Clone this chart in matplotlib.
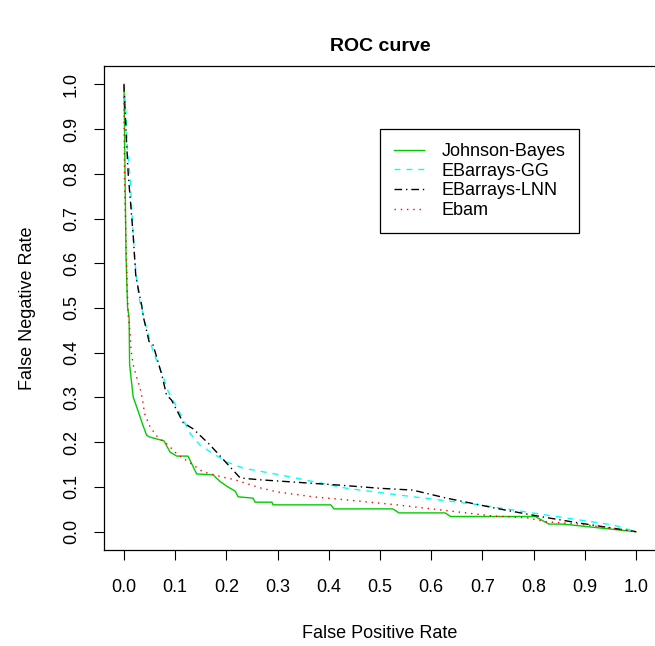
import numpy as np
import matplotlib
matplotlib.use("Agg")
import matplotlib.pyplot as plt

plt.rcParams["font.family"] = ["Liberation Sans", "DejaVu Sans"]

# ------------------------------------------- DATA ------------------------------------------- #

labels = ["Johnson-Bayes", "EBarrays-GG", "EBarrays-LNN", "Ebam"]

jb_fpr = [0.0, 0.004, 0.007, 0.010, 0.011, 0.018, 0.029, 0.037, 0.044, 0.049, 0.078, 0.090,
          0.103, 0.125, 0.142, 0.174, 0.188, 0.203, 0.217, 0.223, 0.252, 0.256, 0.289, 0.291,
          0.404, 0.410, 0.525, 0.537, 0.627, 0.638, 0.803, 0.830, 0.857, 1.0]
jb_fnr = [1.0, 0.614, 0.502, 0.478, 0.373, 0.301, 0.265, 0.238, 0.216, 0.212, 0.203, 0.178,
          0.169, 0.169, 0.129, 0.127, 0.112, 0.100, 0.091, 0.078, 0.075, 0.066, 0.066, 0.060,
          0.060, 0.051, 0.051, 0.042, 0.042, 0.034, 0.034, 0.017, 0.017, 0.0]

gg_fpr = [0.0, 0.004, 0.007, 0.012, 0.015, 0.020, 0.025, 0.031, 0.044, 0.057, 0.074, 0.0865,
          0.103, 0.129, 0.148, 0.168, 0.2006, 0.233, 0.305, 0.435, 0.565, 0.695, 0.826, 0.956, 1.0]
gg_fnr = [1.0, 0.933, 0.849, 0.791, 0.723, 0.626, 0.559, 0.514, 0.455, 0.402, 0.355, 0.313,
          0.279, 0.220, 0.194, 0.179, 0.156, 0.142, 0.127, 0.097, 0.078, 0.060, 0.037, 0.015, 0.0]

lnn_fpr = [0.0, 0.002, 0.005, 0.0084, 0.0137, 0.018, 0.023, 0.029, 0.0346, 0.0377, 0.049, 0.057,
           0.074, 0.083, 0.093, 0.116, 0.135, 0.168, 0.207, 0.227, 0.266, 0.422, 0.500, 0.564,
           0.630, 0.728, 0.8125, 0.891, 1.0]
lnn_fnr = [1.0, 0.947, 0.872, 0.797, 0.723, 0.662, 0.573, 0.536, 0.506, 0.481, 0.425, 0.417,
           0.350, 0.306, 0.294, 0.243, 0.230, 0.194, 0.145, 0.120, 0.116, 0.104, 0.097, 0.093,
           0.075, 0.052, 0.034, 0.019, 0.0]

ebam_fpr = [0.0, 0.001, 0.0065, 0.0084, 0.012, 0.0137, 0.018, 0.025, 0.031, 0.0365, 0.040, 0.051,
            0.066, 0.086, 0.105, 0.129, 0.154, 0.193, 0.217, 0.266, 0.299, 0.344, 0.369, 0.436,
            0.533, 0.631, 0.721, 0.787, 0.826, 0.891, 1.0]
ebam_fnr = [1.0, 0.786, 0.540, 0.480, 0.444, 0.406, 0.373, 0.344, 0.323, 0.294, 0.265, 0.234,
            0.211, 0.194, 0.172, 0.154, 0.134, 0.122, 0.116, 0.098, 0.089, 0.082, 0.078, 0.071,
            0.060, 0.047, 0.035, 0.031, 0.022, 0.017, 0.0]

ticks = np.round(np.arange(0, 1.01, 0.1), 1)

# ------------------------------------------------------------------------------------------- #

fig = plt.figure(figsize=(6.55, 6.46), dpi=100)
# plot box runs a little past the right edge of the image, as in the original
ax = fig.add_axes([103.5 / 655, (646 - 549.6) / 646, 553 / 655, 483.2 / 646])

ax.plot(jb_fpr, jb_fnr, color="#00CD00", lw=1.0, label=labels[0])
ax.plot(gg_fpr, gg_fnr, color="cyan", lw=1.0, linestyle=(0, (4.3, 4.3)), label=labels[1])
ax.plot(lnn_fpr, lnn_fnr, color="black", lw=1.0, linestyle=(0, (5.5, 2.8, 1.0, 2.8)), label=labels[2])
ax.plot(ebam_fpr, ebam_fnr, color="red", lw=1.0, linestyle=(0, (1.0, 3.5)), label=labels[3])

ax.set_xlim(-0.04, 1.04)
ax.set_ylim(-0.04, 1.04)
ax.set_xticks(ticks)
ax.set_yticks(ticks)
ax.set_xticklabels([f"{t:.1f}" for t in ticks])
ax.set_yticklabels([f"{t:.1f}" for t in ticks], rotation=90, va="center")
ax.tick_params(direction="out", length=7, width=0.8, labelsize=13)
ax.tick_params(axis="x", pad=14)
ax.tick_params(axis="y", pad=10)
for s in ax.spines.values():
    s.set_linewidth(0.9)
ax.spines["right"].set_visible(False)

ax.set_title("ROC curve", fontsize=14, fontweight="bold", pad=11)
ax.set_xlabel("False Positive Rate", fontsize=13, labelpad=21)
ax.set_ylabel("False Negative Rate", fontsize=13, labelpad=19)

leg = ax.legend(loc="upper left", bbox_to_anchor=(380 / 655, 1 - 129.3 / 646),
                bbox_transform=fig.transFigure, fontsize=13, frameon=True, fancybox=False,
                edgecolor="black", framealpha=1, borderaxespad=0, borderpad=0.75,
                handlelength=1.7, handletextpad=0.95, labelspacing=0.15)
leg.get_frame().set_linewidth(0.9)

fig.savefig("out.png", dpi=100)
